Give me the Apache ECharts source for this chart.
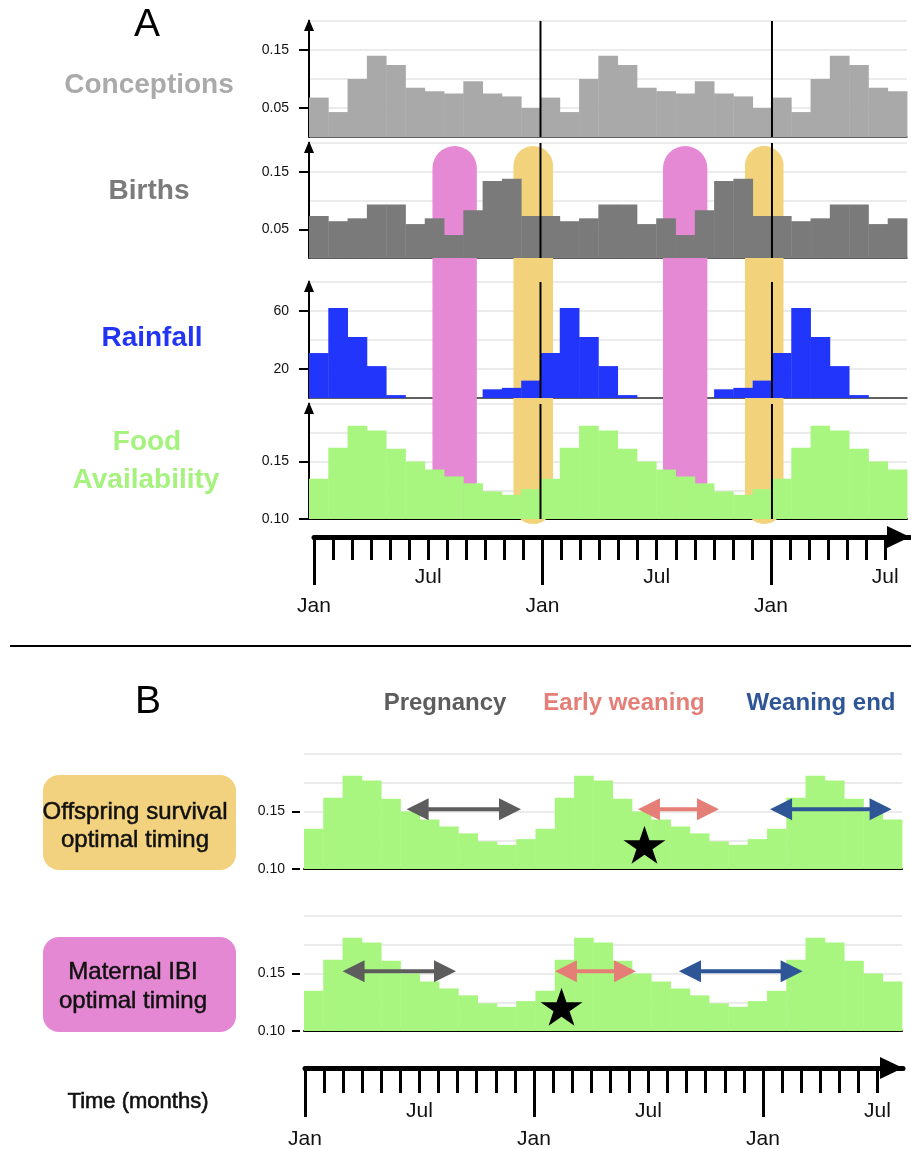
<!DOCTYPE html>
<html><head><meta charset="utf-8">
<script src="https://cdn.jsdelivr.net/npm/echarts@6/dist/echarts.min.js"></script>
<style>html,body{margin:0;padding:0;background:#fff}#c{width:911px;height:1149px}</style>
</head><body><div id="c"></div>
<script>
// ---------- data (31 months: Jan Y1 .. Jul Y3) ----------
const conceptions = [0.068,0.043,0.100,0.140,0.124,0.085,0.079,0.075,0.096,0.075,0.070,0.050,
                     0.068,0.043,0.100,0.140,0.124,0.085,0.079,0.075,0.096,0.075,0.070,0.050,
                     0.068,0.043,0.100,0.140,0.124,0.085,0.079];
const births = [0.073,0.064,0.069,0.093,0.093,0.059,0.069,0.040,0.083,0.134,0.138,0.073,
                0.073,0.064,0.069,0.093,0.093,0.059,0.069,0.040,0.083,0.134,0.138,0.073,
                0.073,0.064,0.069,0.093,0.093,0.059,0.069];
const rainfall = [31,62,42,22,2,0,0,0,0,6,7,12,
                  31,62,42,22,2,0,0,0,0,6,7,12,
                  31,62,42,22,2,0,0];
const food = [0.135,0.162,0.181,0.177,0.161,0.150,0.143,0.137,0.131,0.124,0.121,0.126,
              0.135,0.162,0.181,0.177,0.161,0.150,0.143,0.137,0.131,0.124,0.121,0.126,
              0.135,0.162,0.181,0.177,0.161,0.150,0.143];
const janLines = [12, 24];
const pinkSpans = [[6.4, 8.7], [18.35, 20.65]];
const orangeSpans = [[10.6, 12.65], [22.6, 24.6]];
const arrowNames = ['Pregnancy', 'Early weaning', 'Weaning end'];
const offspringArrows = [[5.32, 11.25, 0.152], [17.31, 21.51, 0.152], [24.16, 30.46, 0.152]];
const maternalArrows  = [[2.0, 7.88, 0.152], [13.01, 17.21, 0.152], [19.44, 25.85, 0.152]];
const offspringStar = [[17.65, 0.121]];
const maternalStar  = [[13.35, 0.121]];
const concTicks = [0.05, 0.15];
const birthTicks = [0.05, 0.15];
const rainTicks = [20, 60];
const foodTicks = [0.10, 0.15];
const janTicks = [0, 12, 24];
const julTicks = [6, 18, 30];
const monthTicks = [1,2,3,4,5,6,7,8,9,10,11,13,14,15,16,17,18,19,20,21,22,23,25,26,27,28,29,30];

// ---------- styles ----------
const FONT = 'Liberation Sans, Arial, Helvetica, sans-serif';
const C = {
  conc: '#a9a9a9', birth: '#7a7a7a', rain: '#2236fb', food: '#a8f680',
  pink: '#e589d5', orange: '#f3d27c', grid: '#e4e4e4',
  arrows: ['#5d5d5d', '#e57e76', '#2e5596']
};
const STAR = 'path://M50,0L61.2,34.5L97.6,34.5L68.2,55.9L79.4,90.5L50,69.1L20.6,90.5L31.8,55.9L2.4,34.5L38.8,34.5Z';

const grids = [
  {left:309, top:21,  width:598, height:116},
  {left:309, top:143, width:598, height:115},
  {left:309, top:282, width:598, height:116},
  {left:309, top:404, width:598, height:115},
  {left:309, top:146, width:598, height:378},
  {left:314, top:536, width:596, height:1},
  {left:304, top:754, width:598, height:115},
  {left:304, top:916, width:598, height:115},
  {left:305, top:1067, width:598, height:1}
].map(g => Object.assign({outerBoundsMode:'none', containLabel:false}, g));

function plainX(gi, lineColor, lineWidth, show) {
  return {gridIndex: gi, type:'value', min:0, max:31, show: show !== false,
    axisLine:{show: !!lineColor, onZero:false, lineStyle:{color: lineColor || '#000', width: lineWidth || 1}},
    axisTick:{show:false}, axisLabel:{show:false}, splitLine:{show:false}};
}
function splitY(gi, min, max, interval) {
  return {gridIndex: gi, type:'value', min, max, interval, position:'left',
    axisLine:{show:false}, axisTick:{show:false}, axisLabel:{show:false},
    splitLine:{show:true, lineStyle:{color:C.grid, width:1.5}}};
}
function mainY(gi, min, max, ticks, fmt, o) {
  return {gridIndex: gi, type:'value', min, max, position:'left', offset: o.offset || 0,
    axisLine:{show: o.line, onZero:false, lineStyle:{color:'#000', width:2},
      symbol:['none','triangle'], symbolSize:[10,12], symbolOffset:[0,-4]},
    axisTick:{show:true, customValues: ticks, length: o.tickLen, lineStyle:{color:'#000', width:2}},
    axisLabel:{show:true, customValues: ticks, formatter: fmt, margin: o.margin,
      fontSize:14, color:'#111', fontFamily: FONT},
    splitLine:{show:false}};
}
function timeX(gi, max, ticks, len, labels, label, margin, line) {
  return {gridIndex: gi, type:'value', min:0, max, position:'bottom',
    axisLine:{show: line, onZero:false, lineStyle:{color:'#000', width:5},
      symbol:['none','triangle'], symbolSize:[22,23], symbolOffset:[0,-11.5]},
    axisTick:{show:true, customValues: ticks, length: len, lineStyle:{color:'#000', width:3}},
    axisLabel:{show:true, customValues: labels, formatter: () => label, margin,
      fontSize:21, color:'#111', fontFamily: FONT},
    splitLine:{show:false}};
}
const f2 = v => v.toFixed(2), f0 = v => v.toFixed(0);

const xAxis = [
  plainX(0, '#333', 1.5), plainX(1, '#333', 1.5), plainX(2, '#333', 1.5), plainX(3, '#000', 2),
  plainX(4, null, 1, false),
  timeX(5, 31.3, monthTicks, 23, julTicks, 'Jul', 30, true),
  timeX(5, 31.3, janTicks, 48, janTicks, 'Jan', 59, false),
  plainX(6, '#000', 2), plainX(7, '#000', 2),
  timeX(8, 31.34, monthTicks, 25, julTicks, 'Jul', 33, true),
  timeX(8, 31.34, janTicks, 49, janTicks, 'Jan', 61, false)
];
const yAxis = [
  splitY(0, 0, 0.2, 0.05), mainY(0, 0, 0.2, concTicks, f2, {line:true, tickLen:10, margin:20}),
  splitY(1, 0, 0.2, 0.05), mainY(1, 0, 0.2, birthTicks, f2, {line:true, tickLen:10, margin:20}),
  splitY(2, 0, 80, 20),    mainY(2, 0, 80, rainTicks, f0, {line:true, tickLen:10, margin:20}),
  splitY(3, 0.1, 0.2, 0.025), mainY(3, 0.1, 0.2, foodTicks, f2, {line:true, tickLen:10, margin:20}),
  {gridIndex:4, type:'value', min:0, max:1, show:false},
  {gridIndex:5, type:'value', min:0, max:1, show:false},
  splitY(6, 0.1, 0.2, 0.025), mainY(6, 0.1, 0.2, foodTicks, f2, {line:false, tickLen:8, margin:15, offset:4}),
  splitY(7, 0.1, 0.2, 0.025), mainY(7, 0.1, 0.2, foodTicks, f2, {line:false, tickLen:8, margin:15, offset:4}),
  {gridIndex:8, type:'value', min:0, max:1, show:false}
];

function stepBars(xi, yi, values, color) {
  return {type:'custom', xAxisIndex: xi, yAxisIndex: yi, z:2, silent:true,
    data: values.map((v, i) => [i, v]), encode:{x:0, y:1},
    renderItem: (params, api) => {
      const i = api.value(0), v = api.value(1);
      const a = api.coord([i, v]), b = api.coord([i + 1, v]);
      const cs = params.coordSys;
      const bottom = cs.y + cs.height;
      return {type:'rect', shape:{x:a[0], y:a[1], width:b[0] - a[0] + 0.4, height: bottom - a[1]},
        style:{fill: color}};
    }};
}
function janSeries(xi, yi) {
  return {type:'custom', xAxisIndex: xi, yAxisIndex: yi, z:4, silent:true,
    data: janLines.map(v => [v, 0]), encode:{x:0, y:1},
    renderItem: (params, api) => {
      const x = api.coord([api.value(0), 0])[0];
      const cs = params.coordSys;
      return {type:'line', shape:{x1:x, y1:cs.y, x2:x, y2:cs.y + cs.height},
        style:{stroke:'#000', lineWidth:2}};
    }};
}
function hlSeries(spans, color, bottomFrac) {
  return {type:'custom', xAxisIndex:4, yAxisIndex:8, z:1, silent:true,
    data: spans, encode:{x:[0,1]},
    renderItem: (params, api) => {
      const a = api.coord([api.value(0), 1]);
      const b = api.coord([api.value(1), bottomFrac]);
      const w = b[0] - a[0];
      return {type:'rect', shape:{x:a[0], y:a[1], width:w, height:b[1] - a[1], r: w / 2},
        style:{fill: color}};
    }};
}
function arrowSeries(xi, yi, arrows) {
  return {type:'custom', xAxisIndex: xi, yAxisIndex: yi, z:5, silent:true,
    data: arrows, encode:{x:[0,1], y:2},
    renderItem: (params, api) => {
      const p0 = api.coord([api.value(0), api.value(2)]);
      const p1 = api.coord([api.value(1), api.value(2)]);
      const col = C.arrows[params.dataIndex];
      const L = 22, H = 11, y = p0[1];
      return {type:'group', children:[
        {type:'line', shape:{x1:p0[0] + L - 2, y1:y, x2:p1[0] - L + 2, y2:y}, style:{stroke: col, lineWidth:4}},
        {type:'polygon', shape:{points:[[p0[0], y], [p0[0] + L, y - H], [p0[0] + L, y + H]]}, style:{fill: col}},
        {type:'polygon', shape:{points:[[p1[0], y], [p1[0] - L, y - H], [p1[0] - L, y + H]]}, style:{fill: col}}
      ]};
    }};
}
function starSeries(xi, yi, data) {
  return {type:'scatter', xAxisIndex: xi, yAxisIndex: yi, z:6, silent:true, data,
    symbol: STAR, symbolSize:[42, 38], itemStyle:{color:'#000', opacity:1}};
}

const series = [
  hlSeries(pinkSpans, C.pink, 0.013),
  hlSeries(orangeSpans, C.orange, 0),
  stepBars(0, 0, conceptions, C.conc), janSeries(0, 0),
  stepBars(1, 2, births, C.birth), janSeries(1, 2),
  stepBars(2, 4, rainfall, C.rain), janSeries(2, 4),
  stepBars(3, 6, food, C.food), janSeries(3, 6),
  stepBars(7, 10, food, C.food), arrowSeries(7, 10, offspringArrows), starSeries(7, 10, offspringStar),
  stepBars(8, 12, food, C.food), arrowSeries(8, 12, maternalArrows), starSeries(8, 12, maternalStar)
];

function txt(text, x, y, size, color, weight, extra) {
  return Object.assign({type:'text', silent:true, style: Object.assign({
    text, x, y, fill: color, font: (weight || 'normal') + ' ' + size + 'px ' + FONT,
    align:'center', verticalAlign:'middle', textAlign:'center', textVerticalAlign:'middle'
  }, extra || {})});
}
const graphic = [
  txt('A', 147, 25, 39, '#000'),
  txt('Conceptions', 149, 85, 28, '#aaaaaa', 'bold'),
  txt('Births', 149, 191, 28, '#7b7b7b', 'bold'),
  txt('Rainfall', 152, 338, 28, '#2235f5', 'bold'),
  txt('Food', 147, 442, 28, '#a6f27e', 'bold'),
  txt('Availability', 146, 480, 28, '#a6f27e', 'bold'),
  {type:'line', silent:true, shape:{x1:10, y1:646, x2:911, y2:646}, style:{stroke:'#000', lineWidth:2}},
  txt('B', 148, 702, 39, '#000'),
  txt(arrowNames[0], 445, 703, 24, C.arrows[0], 'bold'),
  txt(arrowNames[1], 624, 703, 24, C.arrows[1], 'bold'),
  txt(arrowNames[2], 821, 703, 24, C.arrows[2], 'bold'),
  {type:'rect', silent:true, shape:{x:43, y:775, width:193, height:95, r:16}, style:{fill:'#f2d27e'}},
  txt('Offspring survival\noptimal timing', 135, 826, 24, '#111', 'normal',
      {lineHeight:28, stroke:'#111', lineWidth:0.5}),
  {type:'rect', silent:true, shape:{x:43, y:937, width:193, height:95, r:16}, style:{fill:'#e588d3'}},
  txt('Maternal IBI\noptimal timing', 133, 987, 24, '#111', 'normal',
      {lineHeight:29, stroke:'#111', lineWidth:0.5}),
  txt('Time (months)', 138, 1102, 22, '#111', 'normal', {stroke:'#111', lineWidth:0.6})
];

const chart = echarts.init(document.getElementById('c'), null, {renderer:'canvas'});
chart.setOption({
  animation:false, backgroundColor:'#fff',
  textStyle:{fontFamily: FONT},
  grid: grids, xAxis, yAxis, series, graphic
});
</script></body></html>
